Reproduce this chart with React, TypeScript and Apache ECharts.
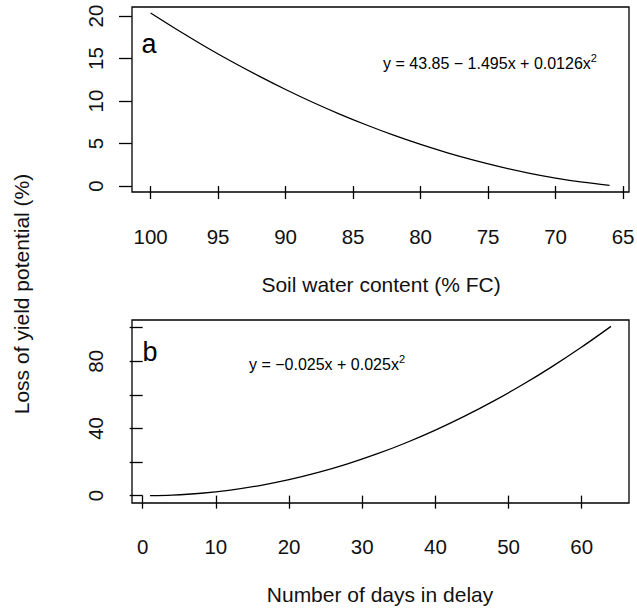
import React, { useEffect, useRef } from "react";
import * as echarts from "echarts";

// Panel a: soil water content (% FC) vs loss of yield potential (%)
const soilWater = [100, 98, 96, 94, 92, 90, 88, 86, 84, 82, 80, 78, 76, 74, 72, 70, 68, 66];
const lossA = [20.35, 18.35, 16.45, 14.65, 12.96, 11.36, 9.86, 8.47, 7.18, 5.98, 4.89, 3.9, 3.01, 2.22, 1.53, 0.94, 0.45, 0.07];

// Panel b: number of days in delay vs loss of yield potential (%)
const delayDays = [1, 4, 8, 12, 16, 20, 24, 28, 32, 36, 40, 44, 48, 52, 56, 60, 64];
const lossB = [0, 0.3, 1.4, 3.3, 6.0, 9.5, 13.8, 18.9, 24.8, 31.5, 39.0, 47.3, 56.4, 66.3, 77.0, 88.5, 100.8];

const ticksXA = [100, 95, 90, 85, 80, 75, 70, 65];
const ticksYA = [0, 5, 10, 15, 20];
const ticksXB = [0, 10, 20, 30, 40, 50, 60];
const ticksYB = [0, 20, 40, 60, 80, 100];
const labelsYB = [0, 40, 80];

const FONT = "'Liberation Sans', Arial, sans-serif";

export default function App() {
  const ref = useRef<HTMLDivElement>(null);
  useEffect(() => {
    document.body.style.margin = "0";
    const chart = echarts.init(ref.current!, null, { renderer: "svg" });
    const axisCommon = {
      type: "value" as const,
      axisLine: { show: false },
      splitLine: { show: false },
      axisTick: { show: true, inside: false, length: 13, lineStyle: { color: "#000", width: 1.3 } },
    };
    const labelCommon = { color: "#111", fontSize: 20.5, fontFamily: FONT, hideOverlap: false };
    const eqRich = {
      t: { fontSize: 16, fontFamily: FONT, fill: "#000" },
      s: { fontSize: 11, fontFamily: FONT, fill: "#000", verticalAlign: "top", padding: [0, 0, 11, 0] },
    };
    const gridCommon = {
      left: 132,
      width: 497,
      show: true,
      borderColor: "#000",
      borderWidth: 1.3,
      backgroundColor: "transparent",
      containLabel: false,
      outerBoundsMode: "none",
    };
    chart.setOption({
      animation: false,
      backgroundColor: "#fff",
      grid: [
        { ...gridCommon, top: 7, height: 185 },
        { ...gridCommon, top: 320, height: 183 },
      ],
      xAxis: [
        {
          ...axisCommon,
          gridIndex: 0,
          inverse: true,
          min: 64.56,
          max: 101.38,
          axisTick: { ...axisCommon.axisTick, customValues: ticksXA },
          axisLabel: { ...labelCommon, margin: 34, customValues: ticksXA },
        },
        {
          ...axisCommon,
          gridIndex: 1,
          min: -1.46,
          max: 66.46,
          axisTick: { ...axisCommon.axisTick, customValues: ticksXB },
          axisLabel: { ...labelCommon, margin: 33, customValues: ticksXB },
        },
      ],
      yAxis: [
        {
          ...axisCommon,
          gridIndex: 0,
          min: -0.7,
          max: 21.06,
          axisTick: { ...axisCommon.axisTick, customValues: ticksYA },
          axisLabel: { ...labelCommon, margin: 26, rotate: 90, customValues: ticksYA },
        },
        {
          ...axisCommon,
          gridIndex: 1,
          min: -4.4,
          max: 104.6,
          axisTick: { ...axisCommon.axisTick, customValues: ticksYB },
          axisLabel: { ...labelCommon, margin: 26, rotate: 90, customValues: labelsYB },
        },
      ],
      series: [
        {
          type: "line",
          xAxisIndex: 0,
          yAxisIndex: 0,
          data: soilWater.map((x, i) => [x, lossA[i]]),
          smooth: 0.3,
          showSymbol: false,
          lineStyle: { color: "#000", width: 1.3 },
        },
        {
          type: "line",
          xAxisIndex: 1,
          yAxisIndex: 1,
          data: delayDays.map((x, i) => [x, lossB[i]]),
          smooth: 0.3,
          showSymbol: false,
          lineStyle: { color: "#000", width: 1.3 },
        },
      ],
      graphic: [
        { type: "text", x: 149, y: 44, style: { text: "a", fontSize: 27, fontFamily: FONT, fill: "#000", align: "center", verticalAlign: "middle" } },
        { type: "text", x: 150, y: 352, style: { text: "b", fontSize: 27, fontFamily: FONT, fill: "#000", align: "center", verticalAlign: "middle" } },
        {
          type: "text",
          x: 490,
          y: 63,
          style: { text: "{t|y = 43.85 − 1.495x + 0.0126x}{s|2}", align: "center", verticalAlign: "middle", rich: eqRich },
        },
        {
          type: "text",
          x: 327,
          y: 364,
          style: { text: "{t|y = −0.025x + 0.025x}{s|2}", align: "center", verticalAlign: "middle", rich: eqRich },
        },
        { type: "text", x: 381, y: 284, style: { text: "Soil water content (% FC)", fontSize: 21, fontFamily: FONT, fill: "#111", align: "center", verticalAlign: "middle" } },
        { type: "text", x: 380, y: 594, style: { text: "Number of days in delay", fontSize: 21, fontFamily: FONT, fill: "#111", align: "center", verticalAlign: "middle" } },
        { type: "text", x: 21, y: 294, rotation: Math.PI / 2, style: { text: "Loss of yield potential (%)", fontSize: 21, fontFamily: FONT, fill: "#111", align: "center", verticalAlign: "middle" } },
      ],
    });
    return () => chart.dispose();
  }, []);
  return <div ref={ref} style={{ width: 637, height: 609 }} />;
}
